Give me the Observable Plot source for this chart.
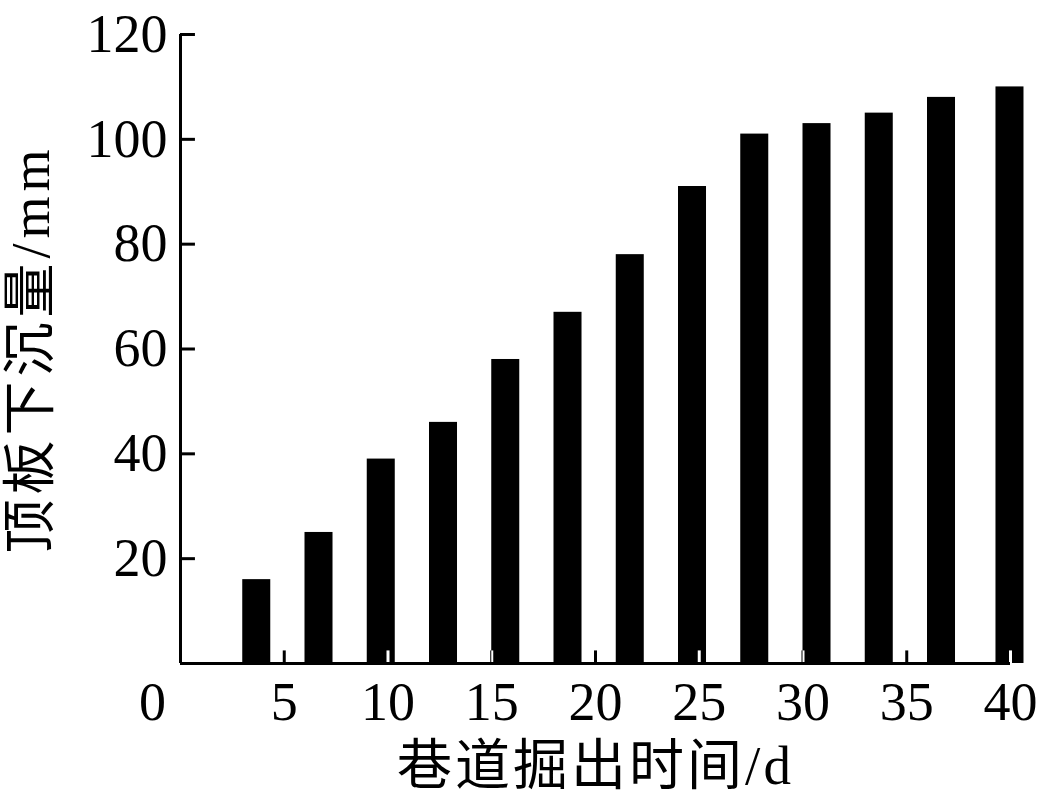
<!DOCTYPE html>
<html>
<head>
<meta charset="utf-8">
<script src="https://cdn.jsdelivr.net/npm/d3@7"></script>
<script src="https://cdn.jsdelivr.net/npm/@observablehq/plot@0.6"></script>
<style>
  html, body { margin: 0; padding: 0; background: #fff; }
  #chart svg { display: block; }
</style>
</head>
<body>
<div id="chart"></div>
<script>
// Data
const days = [3, 6, 9, 12, 15, 18, 21, 24, 27, 30, 33, 36, 39.3];
const subsidence = [16, 25, 39, 46, 58, 67, 78, 91, 101, 103, 105, 108, 110];
const xTicks = [5, 10, 15, 20, 25, 30, 35, 40];
const yTicks = [20, 40, 60, 80, 100, 120];
const xTitle = "巷道掘出时间/d";
const yTitle = "顶板下沉量/mm";

const data = days.map((d, i) => ({day: d, value: subsidence[i]}));

const FONT = "'Liberation Serif', 'Times New Roman', 'Noto Sans CJK SC', serif";
const BAR_W = 1.35;

const chart = Plot.plot({
  width: 1038,
  height: 807,
  marginLeft: 180,
  marginRight: 28,
  marginTop: 34,
  marginBottom: 144,
  style: {fontFamily: FONT, color: "#000", background: "#fff", overflow: "visible"},
  x: {domain: [0, 40]},
  y: {domain: [0, 120]},
  marks: [
    Plot.frame({fill: "white", stroke: "none"}),
    Plot.rectY(data, {x1: "day", x2: d => d.day + BAR_W, y1: 0, y2: "value", fill: "black"}),
    // x ticks (inward), inverted over bars as in the reference
    Plot.ruleX(xTicks, {x: d => d, y1: 0, y2: 2.4, stroke: "white", strokeWidth: 3, mixBlendMode: "difference"}),
    // y ticks (inward)
    Plot.ruleY(yTicks, {y: d => d, x1: 0, x2: 0.72, stroke: "black", strokeWidth: 3}),
    Plot.ruleX([0], {stroke: "black", strokeWidth: 3}),
    Plot.ruleY([0], {stroke: "black", strokeWidth: 3}),
    Plot.axisY(yTicks, {tickSize: 0, tickPadding: 13, fontSize: 54, label: null, fill: "black"}),
    Plot.axisX(xTicks, {tickSize: 0, tickPadding: 18, fontSize: 54, label: null, fill: "black"}),
    Plot.axisX([0], {tickSize: 0, tickPadding: 18, fontSize: 54, label: null, dx: -28, fill: "black"}),
    Plot.text([xTitle], {frameAnchor: "bottom", dy: 103, fontSize: 55, textAnchor: "middle", lineAnchor: "middle", fill: "black"}),
    Plot.text([yTitle], {frameAnchor: "left", dx: -149, rotate: -90, fontSize: 54, textAnchor: "middle", lineAnchor: "middle", fill: "black"})
  ]
});
d3.select(chart).selectAll("text")
  .filter(function () { return this.textContent === xTitle; })
  .style("letter-spacing", "3px");
d3.select(chart).selectAll("text")
  .filter(function () { return this.textContent === yTitle; })
  .style("letter-spacing", "5px");
document.getElementById("chart").appendChild(chart);
</script>
</body>
</html>
